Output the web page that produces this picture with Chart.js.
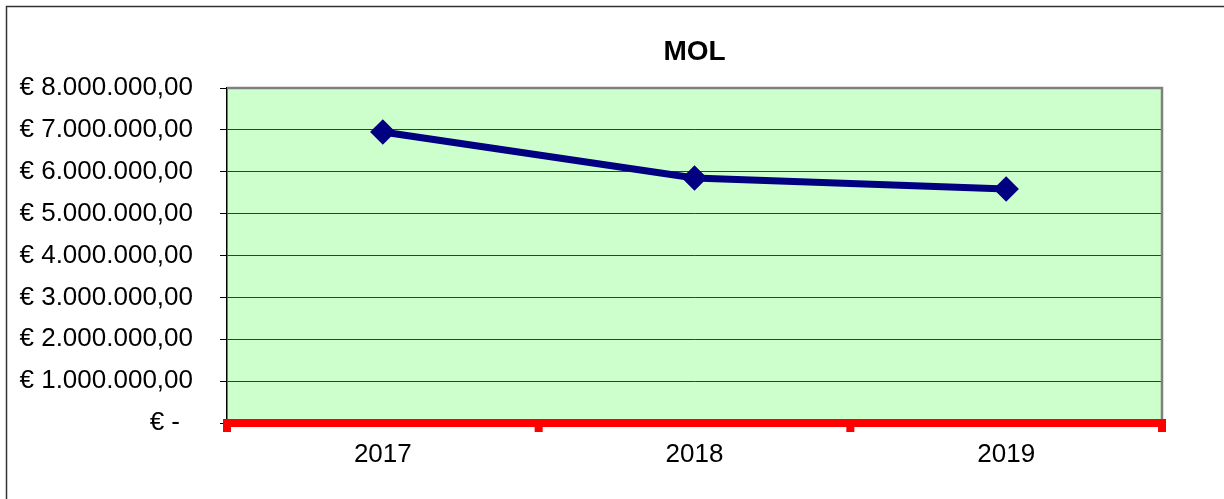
<!DOCTYPE html>
<html>
<head>
<meta charset="utf-8">
<script src="https://cdn.jsdelivr.net/npm/chart.js@4/dist/chart.umd.min.js"></script>
<style>
  html, body { margin: 0; padding: 0; background: #fff; }
  #wrap { width: 1224px; height: 499px; position: relative; }
</style>
</head>
<body>
<div id="wrap"><canvas id="c" width="1224" height="499"></canvas></div>
<script>
const categories = ['2017', '2018', '2019'];
const molValues = [6950000, 5850000, 5590000];
const yTickValues = [0, 1000000, 2000000, 3000000, 4000000, 5000000, 6000000, 7000000, 8000000];
const chartTitle = 'MOL';

function fmtEuro(v) {
  if (v === 0) return '€ -\u2002';
  const s = Math.round(v).toString().replace(/\B(?=(\d{3})+(?!\d))/g, '.');
  return '€ ' + s + ',00';
}

const FONT = "'Liberation Sans', Arial, sans-serif";

const decor = {
  id: 'decor',
  beforeDraw(chart) {
    const { ctx, chartArea: a } = chart;
    ctx.save();
    ctx.fillStyle = '#CCFFCC';
    ctx.fillRect(a.left, a.top, a.right - a.left, a.bottom - a.top);
    ctx.strokeStyle = '#333';
    ctx.lineWidth = 1.5;
    ctx.beginPath();
    ctx.moveTo(6.5, chart.height + 2);
    ctx.lineTo(6.5, 6.5);
    ctx.lineTo(chart.width + 2, 6.5);
    ctx.stroke();
    ctx.restore();
  },
  beforeDatasetsDraw(chart) {
    const { ctx, chartArea: a, scales } = chart;
    const x = scales.x;
    ctx.save();
    ctx.strokeStyle = '#808080';
    ctx.lineWidth = 2.5;
    ctx.beginPath();
    ctx.moveTo(a.left, a.top);
    ctx.lineTo(a.right, a.top);
    ctx.lineTo(a.right, a.bottom);
    ctx.stroke();
    ctx.fillStyle = '#FF0000';
    const y0 = scales.y.getPixelForValue(0);
    ctx.fillRect(a.left - 4, y0 - 4, a.right - a.left + 8, 8);
    for (let i = 0; i <= categories.length; i++) {
      const px = x.getPixelForValue(i - 0.5);
      ctx.fillRect(px - 4, y0, 8, 9);
    }
    ctx.restore();
  }
};

new Chart(document.getElementById('c'), {
  type: 'line',
  data: {
    labels: categories,
    datasets: [{
      label: chartTitle,
      data: molValues,
      borderColor: '#000080',
      backgroundColor: '#000080',
      borderWidth: 7,
      pointStyle: 'rectRot',
      pointRadius: 11,
      pointBorderWidth: 2.5,
      pointBackgroundColor: '#000080',
      pointBorderColor: '#000080',
      tension: 0,
      fill: false
    }]
  },
  options: {
    responsive: false,
    animation: false,
    devicePixelRatio: 1,
    layout: { padding: { left: 0, right: 62, top: 0, bottom: 0 } },
    plugins: {
      legend: { display: false },
      tooltip: { enabled: false },
      title: {
        display: true,
        text: chartTitle,
        fullSize: false,
        color: '#000',
        font: { family: FONT, size: 28, weight: 'bold', lineHeight: 1.2 },
        padding: { top: 35.2, bottom: 19.2 }
      }
    },
    scales: {
      x: {
        type: 'category',
        offset: true,
        grid: { display: false, drawTicks: true, tickLength: 8 },
        border: { display: false },
        ticks: {
          color: '#000',
          font: { family: FONT, size: 26 },
          padding: 8,
          maxRotation: 0,
          autoSkip: false
        },
        afterFit(scale) { scale.height = 76; }
      },
      y: {
        min: 0,
        max: 8000000,
        afterBuildTicks(scale) { scale.ticks = yTickValues.map(v => ({ value: v })); },
        grid: {
          color: '#3a3a3a',
          lineWidth: 1,
          drawTicks: true,
          tickLength: 7,
          tickColor: '#000'
        },
        border: { display: true, color: '#000', width: 1.5 },
        ticks: {
          color: '#000',
          font: { family: FONT, size: 26 },
          padding: 27,
          callback: (v) => fmtEuro(v)
        },
        afterFit(scale) { scale.width = 227; }
      }
    }
  },
  plugins: [decor]
});
</script>
</body>
</html>
